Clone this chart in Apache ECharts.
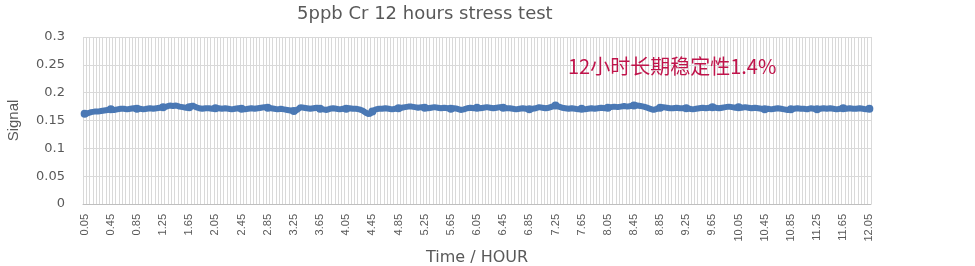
<!DOCTYPE html>
<html><head><meta charset="utf-8">
<script src="https://cdn.jsdelivr.net/npm/echarts@6/dist/echarts.min.js"></script>
<style>html,body{margin:0;padding:0;background:#fff}#c{width:975px;height:266px}</style>
</head><body><div id="c"></div>
<script>
const titleText = "5ppb Cr 12 hours stress test";
const annotationText = "12小时长期稳定性1.4%";
const xName = "Time / HOUR";
const yName = "Signal";
const yTicks = [0, 0.05, 0.1, 0.15, 0.2, 0.25, 0.3];
// time categories, 0.05 h step from 0.05 to 12.05 h
const categories = Array.from({length: 241}, (_, i) => ((i + 1) * 0.05).toFixed(2));
const signal = [
 0.162,0.163,0.165,0.166,0.166,0.167,0.168,0.169,0.170,0.169,
 0.170,0.171,0.171,0.170,0.171,0.172,0.171,0.171,0.170,0.171,
 0.172,0.171,0.172,0.173,0.174,0.175,0.177,0.176,0.177,0.175,
 0.174,0.173,0.174,0.177,0.174,0.172,0.171,0.172,0.172,0.171,
 0.172,0.172,0.171,0.172,0.171,0.170,0.171,0.172,0.171,0.170,
 0.171,0.172,0.171,0.172,0.173,0.174,0.173,0.172,0.171,0.170,
 0.171,0.170,0.169,0.168,0.167,0.169,0.174,0.173,0.172,0.171,
 0.172,0.173,0.171,0.170,0.169,0.171,0.172,0.171,0.170,0.171,
 0.171,0.172,0.171,0.171,0.170,0.168,0.164,0.161,0.166,0.170,
 0.171,0.171,0.172,0.171,0.170,0.171,0.172,0.173,0.174,0.175,
 0.175,0.174,0.173,0.174,0.173,0.172,0.173,0.174,0.173,0.172,
 0.173,0.172,0.171,0.172,0.171,0.169,0.170,0.172,0.173,0.172,
 0.173,0.172,0.173,0.174,0.173,0.172,0.173,0.174,0.173,0.172,
 0.172,0.171,0.170,0.171,0.172,0.171,0.170,0.171,0.172,0.174,
 0.173,0.172,0.173,0.175,0.177,0.175,0.173,0.172,0.171,0.172,
 0.171,0.170,0.171,0.170,0.171,0.172,0.171,0.172,0.173,0.172,
 0.173,0.174,0.175,0.174,0.175,0.176,0.175,0.176,0.177,0.177,
 0.176,0.175,0.173,0.171,0.169,0.171,0.173,0.174,0.173,0.172,
 0.172,0.173,0.172,0.172,0.172,0.171,0.170,0.171,0.172,0.173,
 0.172,0.173,0.174,0.173,0.172,0.173,0.174,0.175,0.174,0.173,
 0.174,0.173,0.174,0.173,0.172,0.173,0.172,0.171,0.170,0.171,
 0.170,0.171,0.172,0.171,0.170,0.169,0.170,0.171,0.172,0.171,
 0.171,0.170,0.172,0.171,0.170,0.171,0.172,0.171,0.172,0.171,
 0.170,0.171,0.172,0.171,0.172,0.171,0.171,0.172,0.171,0.170,
 0.171
];

const chart = echarts.init(document.getElementById('c'), null, {renderer: 'canvas'});
const grey = '#595959';
chart.setOption({
  animation: false,
  backgroundColor: '#fff',
  title: {
    text: titleText, left: 292, top: 0,
    textStyle: {fontFamily: 'DejaVu Sans', fontSize: 18, fontWeight: 'normal', color: grey}
  },
  grid: {left: 83, right: 104, top: 37, bottom: 62, containLabel: false, outerBoundsMode: 'none'},
  xAxis: {
    type: 'category', data: categories, boundaryGap: true,
    name: xName, nameLocation: 'middle', nameGap: 46,
    nameTextStyle: {fontFamily: 'DejaVu Sans', fontSize: 16, color: grey},
    axisLine: {show: true, lineStyle: {color: '#bfbfbf', width: 1}},
    axisTick: {show: false},
    axisLabel: {
      interval: 7, rotate: 90, color: grey, fontSize: 11, margin: 10,
      fontFamily: 'Liberation Sans Narrow, Liberation Sans, sans-serif'
    },
    splitLine: {show: true, interval: 0, lineStyle: {color: '#d9d9d9', width: 1}}
  },
  yAxis: {
    type: 'value', min: yTicks[0], max: yTicks[yTicks.length - 1], interval: 0.05,
    name: yName, nameLocation: 'middle', nameGap: 62, nameRotate: 90,
    nameTextStyle: {fontFamily: 'Liberation Sans Narrow, Liberation Sans, sans-serif', fontSize: 15, color: grey},
    axisLine: {show: false}, axisTick: {show: false},
    axisLabel: {color: grey, fontSize: 13, fontFamily: 'DejaVu Sans', margin: 18,
      formatter: v => String(Math.round(v * 100) / 100)},
    splitLine: {show: true, lineStyle: {color: '#d9d9d9', width: 1}}
  },
  series: [{
    type: 'line', data: signal,
    symbol: 'circle', symbolSize: 8, showSymbol: true,
    lineStyle: {color: '#4a78b4', width: 6},
    itemStyle: {color: '#4a78b4', borderWidth: 0}
  }],
  graphic: [{
    type: 'text', left: 568, top: 56, z: 100,
    style: {text: annotationText, fill: '#c0144b', fontSize: 20,
      fontFamily: 'Noto Sans CJK SC', stroke: null, lineWidth: 0}
  }]
});
</script>
</body></html>
